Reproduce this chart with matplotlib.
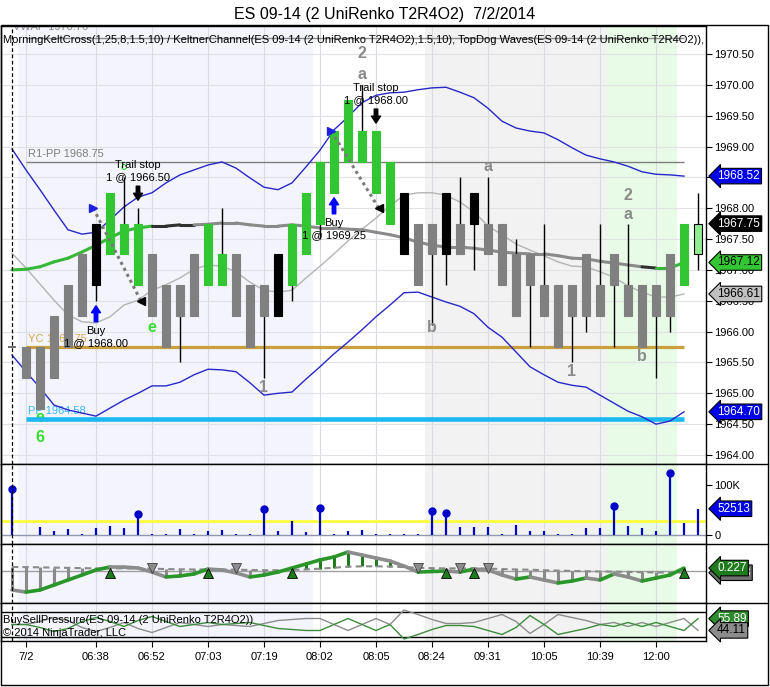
import numpy as np
import matplotlib
matplotlib.use("Agg")
import matplotlib.pyplot as plt
from matplotlib.lines import Line2D
from matplotlib.patches import Rectangle

plt.rcParams['font.family'] = ['Liberation Sans', 'DejaVu Sans']

W, H = 770, 687

# ---- UniRenko bars ----
bar_state = ['s'] * 6 + ['k'] + ['g'] * 3 + ['s'] * 4 + ['g'] * 2 + ['s'] * 3 + ['k'] + ['g'] * 8 \
    + ['k'] + ['s'] * 2 + ['k'] + ['s'] + ['k'] + ['s'] * 14 + ['g'] + ['l']
bar_open = [1965.75, 1965.75, 1965.75, 1966.25, 1966.75, 1967.25, 1966.75, 1967.25, 1967.25, 1966.75,
            1967.25, 1966.75, 1966.75, 1967.25, 1966.75, 1966.75, 1967.25, 1966.75, 1966.75, 1966.25,
            1966.75, 1967.25, 1967.75, 1968.25, 1968.75, 1968.75, 1968.25, 1967.75, 1967.25, 1967.75,
            1967.75, 1967.25, 1967.75, 1967.75, 1967.75, 1967.75, 1967.25, 1967.25, 1966.75, 1966.75,
            1966.75, 1967.25, 1966.75, 1967.25, 1966.75, 1966.75, 1966.75, 1967.25, 1966.75, 1967.25]
bar_close = [1965.75, 1965.25, 1964.75, 1965.25, 1965.75, 1966.25, 1967.75, 1968.25, 1967.75, 1967.75,
             1966.25, 1965.75, 1966.25, 1966.25, 1967.75, 1967.25, 1966.25, 1965.75, 1966.25, 1967.25,
             1967.75, 1968.25, 1968.75, 1969.25, 1969.75, 1969.25, 1969.25, 1968.75, 1968.25, 1966.75,
             1967.25, 1968.25, 1967.25, 1968.25, 1967.25, 1966.75, 1966.25, 1966.75, 1966.25, 1965.75,
             1966.25, 1966.25, 1966.25, 1966.75, 1966.25, 1965.75, 1966.25, 1966.25, 1967.75, 1967.75]
bar_high = [1965.75, 1965.75, 1965.75, 1966.25, 1966.75, 1967.25, 1967.75, 1968.25, 1968.50, 1968.00,
            1967.25, 1966.75, 1966.75, 1967.25, 1967.75, 1968.00, 1967.25, 1966.75, 1966.75, 1967.25,
            1967.75, 1968.25, 1968.75, 1969.25, 1969.75, 1970.00, 1969.25, 1968.75, 1968.25, 1967.75,
            1967.75, 1968.25, 1968.50, 1968.25, 1968.50, 1967.75, 1967.50, 1967.25, 1967.75, 1966.75,
            1966.75, 1967.25, 1967.75, 1967.25, 1967.75, 1966.75, 1966.75, 1967.25, 1967.75, 1968.25]
bar_low = [1965.75, 1965.25, 1964.75, 1965.25, 1965.75, 1966.25, 1966.50, 1967.25, 1967.25, 1966.75,
           1966.25, 1965.75, 1965.50, 1966.25, 1966.75, 1966.75, 1966.25, 1965.75, 1965.25, 1966.25,
           1966.50, 1967.25, 1967.50, 1968.25, 1968.75, 1968.75, 1968.25, 1967.75, 1967.25, 1966.75,
           1966.10, 1966.75, 1967.25, 1967.00, 1967.25, 1966.75, 1966.25, 1965.75, 1966.25, 1965.75,
           1965.50, 1966.00, 1966.25, 1965.75, 1966.25, 1965.75, 1965.25, 1966.00, 1966.75, 1967.00]

# ---- indicators (bars 0..48) ----
kelt_upper = [1968.96, 1968.62, 1968.30, 1967.97, 1967.65, 1967.58, 1967.61, 1967.81, 1968.02, 1968.18,
              1968.25, 1968.41, 1968.54, 1968.62, 1968.70, 1968.75, 1968.65, 1968.49, 1968.34, 1968.30,
              1968.41, 1968.67, 1968.94, 1969.27, 1969.48, 1969.71, 1969.83, 1969.87, 1969.88, 1969.92,
              1969.95, 1969.96, 1969.88, 1969.79, 1969.62, 1969.41, 1969.30, 1969.25, 1969.22, 1969.11,
              1968.98, 1968.86, 1968.80, 1968.75, 1968.68, 1968.59, 1968.55, 1968.54, 1968.52]
kelt_lower = [1965.62, 1965.35, 1965.09, 1964.81, 1964.73, 1964.68, 1964.63, 1964.76, 1964.89, 1965.00,
              1965.12, 1965.12, 1965.18, 1965.30, 1965.39, 1965.38, 1965.35, 1965.17, 1964.97, 1965.00,
              1965.02, 1965.23, 1965.43, 1965.64, 1965.83, 1966.03, 1966.24, 1966.43, 1966.63, 1966.64,
              1966.56, 1966.48, 1966.41, 1966.29, 1966.07, 1965.91, 1965.67, 1965.43, 1965.30, 1965.18,
              1965.13, 1965.10, 1964.97, 1964.84, 1964.71, 1964.62, 1964.50, 1964.55, 1964.70]
thin_ma = [1967.27, 1967.03, 1966.77, 1966.51, 1966.27, 1966.16, 1966.14, 1966.24, 1966.43, 1966.51,
           1966.67, 1966.76, 1966.87, 1967.01, 1967.08, 1967.06, 1966.97, 1966.80, 1966.67, 1966.64,
           1966.67, 1966.87, 1967.06, 1967.26, 1967.47, 1967.66, 1967.84, 1968.04, 1968.21, 1968.25,
           1968.25, 1968.21, 1968.10, 1967.94, 1967.71, 1967.57, 1967.42, 1967.32, 1967.23, 1967.13,
           1967.06, 1967.05, 1966.97, 1966.88, 1966.74, 1966.64, 1966.56, 1966.56, 1966.61]
mid_line = [1967.00, 1967.01, 1967.05, 1967.13, 1967.19, 1967.29, 1967.40, 1967.52, 1967.63, 1967.68,
            1967.71, 1967.71, 1967.73, 1967.73, 1967.74, 1967.76, 1967.76, 1967.73, 1967.71, 1967.71,
            1967.73, 1967.71, 1967.68, 1967.68, 1967.66, 1967.65, 1967.61, 1967.57, 1967.52, 1967.45,
            1967.40, 1967.37, 1967.37, 1967.35, 1967.32, 1967.29, 1967.27, 1967.26, 1967.26, 1967.23,
            1967.19, 1967.18, 1967.14, 1967.11, 1967.08, 1967.05, 1967.03, 1967.03, 1967.12]
mid_state = ['g'] * 11 + ['k'] * 3 + ['s'] * 32 + ['k'] + ['g'] * 2

level_names = ['VWAP', 'R1-PP', 'YC', 'PP']
level_values = [1970.76, 1968.75, 1965.75, 1964.58]

entry_bars, entry_prices = [6, 23], [1968.00, 1969.25]
exit_bars, exit_prices = [9, 26], [1966.50, 1968.00]

wave_labels = [(25, '2', 1970.50), (25, 'a', 1970.16), (34, 'a', 1968.67), (44, '2', 1968.20),
               (44, 'a', 1967.89), (30, 'b', 1966.07), (18, '1', 1965.10), (40, '1', 1965.35),
               (45, 'b', 1965.59)]
green_labels = [(10, 'e', 1966.07), (2, 'e', 1964.60), (2, '6', 1964.29)]

# ---- volume ----
volume = [92000, 0, 16000, 8000, 12000, 2000, 14000, 18000, 14000, 42000,
          2000, 2000, 12000, 2000, 8000, 10000, 2000, 2000, 52000, 8000,
          28000, 6000, 54000, 2000, 8000, 10000, 2000, 2000, 2000, 2000,
          48000, 44000, 16000, 16000, 16000, 2000, 20000, 8000, 8000, 2000,
          2000, 14000, 14000, 58000, 18000, 14000, 8000, 124000, 24000, 52513]
vol_spikes = [0, 9, 18, 22, 30, 31, 43, 47]
vol_level = 28600

# ---- oscillator (bars 0..48) ----
osc_fast = [-1.46, -1.62, -1.46, -1.08, -0.69, -0.31, 0.08, 0.31, 0.30, 0.23,
            -0.08, -0.46, -0.38, -0.23, 0.15, 0.08, -0.15, -0.46, -0.31, -0.08,
            0.23, 0.54, 0.85, 1.08, 1.46, 1.23, 1.00, 0.77, 0.38, -0.08,
            -0.04, 0.00, -0.08, 0.15, 0.08, -0.31, -0.62, -0.46, -0.69, -0.92,
            -0.77, -0.54, -0.69, -0.23, -0.46, -0.77, -0.54, -0.31, 0.227]
osc_slow = [0.31, 0.30, 0.28, 0.26, 0.24, 0.22, 0.20, 0.20, 0.20, 0.20,
            0.18, 0.15, 0.13, 0.12, 0.12, 0.12, 0.10, 0.08, 0.06, 0.06,
            0.08, 0.12, 0.18, 0.25, 0.33, 0.36, 0.36, 0.34, 0.30, 0.25,
            0.22, 0.20, 0.20, 0.20, 0.18, 0.15, 0.12, 0.10, 0.06, 0.03,
            0.00, -0.02, -0.04, -0.05, -0.07, -0.09, -0.11, -0.12, -0.133]
osc_up = [7, 14, 20, 31, 33, 48]
osc_down = [10, 16, 29, 32, 34]

# ---- buy / sell pressure ----
sell_pressure = [50, 50, 53, 57, 54, 47, 43, 47, 52, 46,
                 42, 47, 52, 50, 48, 50, 49, 48, 51, 54,
                 55, 56, 56, 50, 44, 50, 56, 50, 64.5, 60,
                 55, 51, 51, 52, 56, 60, 53, 41, 50, 60,
                 57, 54, 50, 52, 48, 52, 48, 52, 56, 44.11]

tick_bars = [1, 6, 10, 14, 18, 22, 26, 30, 34, 38, 42, 46]
tick_labels = ['7/2', '06:38', '06:52', '07:03', '07:19', '08:02', '08:05',
               '08:24', '09:31', '10:05', '10:39', '12:00']
bg_spans = [(0.45, 21.5, '#F3F4FC'), (29.5, 42.5, '#F2F2F2'), (42.5, 47.5, '#E7FBE7')]

body_colors = {'g': '#33C633', 's': '#808080', 'k': '#000000', 'l': '#90EE90'}
line_colors = {'g': '#38B838', 's': '#8A8A8A', 'k': '#303030'}


def frect(x0, y0, x1, y1):
    return [x0 / W, 1 - y1 / H, (x1 - x0) / W, (y1 - y0) / H]


fig = plt.figure(figsize=(W / 100, H / 100), dpi=100)
ax = fig.add_axes(frect(1, 26, 706, 464))
ax_vol = fig.add_axes(frect(1, 464, 706, 544))
ax_osc = fig.add_axes(frect(1, 544, 706, 603))
ax_bsp = fig.add_axes(frect(1, 603, 706, 641))
panels = [ax, ax_vol, ax_osc, ax_bsp]

XL = (-11 / 14, 694 / 14)
for a in panels:
    a.set_xlim(*XL)
    for x0, x1, c in bg_spans:
        a.axvspan(x0, x1, color=c, lw=0, zorder=0)
    for t in tick_bars:
        a.axvline(t, color='#DADAE2', lw=0.8, zorder=0.5)
    a.axvline(0, color='black', lw=0.9, ls=(0, (3, 2)), zorder=6)
    a.tick_params(bottom=False, labelbottom=False, left=False, labelleft=False)
    for s in a.spines.values():
        s.set_linewidth(1)

ax.set_ylim(1964 - 9 / 61.7, 1964 + 429 / 61.7)
ax_vol.set_ylim(-18000, 142000)
ax_osc.set_ylim(-32 / 13, 27 / 13)
ax_bsp.set_ylim(33.5, 71.5)
ppx = (ax.get_ylim()[1] - ax.get_ylim()[0]) / 438.0

# right price axis
ax.yaxis.tick_right()
ax.set_yticks(np.arange(1964, 1970.51, 0.5))
ax.set_yticklabels([f'{v:.2f}' for v in np.arange(1964, 1970.51, 0.5)])
ax.tick_params(axis='y', right=True, labelright=True, labelsize=8, length=4, width=0.8, pad=2)
for v in np.arange(1964, 1970.51, 0.5):
    ax.axhline(v, color='#E2E2E6', lw=0.8, zorder=0.5)

xb = np.arange(len(bar_open))
xi = np.arange(len(kelt_upper))

# levels
lvl_style = {'VWAP': ('#8C8C8C', 1.0), 'R1-PP': ('#7F7F7F', 1.0),
             'YC': ('#C9A03C', 2.3), 'PP': ('#1CB8F2', 3.3)}
lvl_text_col = {'VWAP': '#8C8C8C', 'R1-PP': '#7F7F7F', 'YC': '#D2A850', 'PP': '#3CB8F0'}
for name, val in zip(level_names, level_values):
    col, lw = lvl_style[name]
    ax.plot([1, 48], [val, val], color=col, lw=lw, zorder=2, solid_capstyle='butt')
    if name == 'VWAP':
        ax.text(0.1, val + 11 * ppx, f'{name} {val:.2f}', color=col, fontsize=8,
                va='center', ha='left', zorder=1.5, clip_on=True)
    else:
        ax.text(1.15, val + 8 * ppx, f'{name} {val:.2f}', color=lvl_text_col[name], fontsize=8,
                va='center', ha='left', zorder=1.5)

# indicator lines
ax.plot(xi, kelt_upper, color='#2828C8', lw=1.0, zorder=2.5)
ax.plot(xi, kelt_lower, color='#2828C8', lw=1.0, zorder=2.5)
ax.plot(xi, thin_ma, color='#B4B4B4', lw=1.0, zorder=2.5)
for i in range(1, len(mid_line)):
    ax.plot([i - 1, i], [mid_line[i - 1], mid_line[i]], color=line_colors[mid_state[i]],
            lw=2.2, zorder=2.6, solid_capstyle='round')

# bars
ax.vlines(xb, bar_low, bar_high, color='black', lw=1, zorder=3)
for i in xb:
    o, c = bar_open[i], bar_close[i]
    st = bar_state[i]
    if o == c:
        ax.hlines(o, i - 0.32, i + 0.32, color='#505050', lw=1.2, zorder=4)
        continue
    ec = 'black' if st == 'l' else body_colors[st]
    ax.add_patch(Rectangle((i - 0.32, min(o, c)), 0.64, abs(c - o), fc=body_colors[st],
                           ec=ec, lw=0.8, zorder=4))

# wave labels
for b, t, p in wave_labels:
    ax.text(b, p, t, color='#8A8A8A', fontsize=11.5, fontweight='bold', ha='center',
            va='center', zorder=5)
for b, t, p in green_labels:
    ax.text(b, p, t, color='#33DD33', fontsize=11.5, fontweight='bold', ha='center',
            va='center', zorder=1.8)
ax.text(8, bar_high[8] + 10 * ppx, 'c', color='#33DD33', fontsize=8, fontweight='bold',
        ha='center', va='center', zorder=5)

# trades
for eb, ep, xb_, xp in zip(entry_bars, entry_prices, exit_bars, exit_prices):
    ax.plot([eb - 0.2, xb_ + 0.2], [ep, xp], color='#7A7A7A', lw=2.2, ls=(0, (1, 1.2)), zorder=5)
    ax.plot(eb - 0.2, ep, marker='>', ms=6, color='#2020E0', zorder=6)
    ax.plot(xb_ + 0.2, xp, marker='<', ms=6, color='black', zorder=6)
    lo = bar_low[eb]
    ax.annotate('', xy=(eb, lo - 5 * ppx), xytext=(eb, lo - 21 * ppx),
                arrowprops=dict(arrowstyle='simple,head_width=0.65,head_length=0.5,tail_width=0.25',
                                color='#0000FF', shrinkA=0, shrinkB=0, mutation_scale=10), zorder=6)
    ax.text(eb, lo - 30 * ppx, 'Buy', ha='center', va='center', fontsize=8, zorder=6)
    ax.text(eb, lo - 42 * ppx, f'1 @ {ep:.2f}', ha='center', va='center', fontsize=8, zorder=6)
    hi = bar_high[xb_]
    ax.annotate('', xy=(xb_, hi + 8 * ppx), xytext=(xb_, hi + 22 * ppx),
                arrowprops=dict(arrowstyle='simple,head_width=0.65,head_length=0.5,tail_width=0.25',
                                color='black', shrinkA=0, shrinkB=0, mutation_scale=10), zorder=6)
    ax.text(xb_, hi + 43 * ppx, 'Trail stop', ha='center', va='center', fontsize=8, zorder=6)
    ax.text(xb_, hi + 31 * ppx, f'1 @ {xp:.2f}', ha='center', va='center', fontsize=8, zorder=6)

ax.text(0.003, 1 - 14 / 438, 'MorningKeltCross(1,25,8,1.5,10) / KeltnerChannel(ES 09-14 (2 UniRenko '
        'T2R4O2),1.5,10), TopDog Waves(ES 09-14 (2 UniRenko T2R4O2)),', transform=ax.transAxes,
        fontsize=8, ha='left', va='center', zorder=7)


def flag(a, y, txt, fc, tc, ec='black', z=10):
    a.annotate(txt, xy=(1, y), xycoords=('axes fraction', 'data'), xytext=(8, 0),
               textcoords='offset points', ha='left', va='center', fontsize=8.5, color=tc,
               annotation_clip=False, zorder=z,
               bbox=dict(boxstyle='larrow,pad=0.15', fc=fc, ec=ec, lw=0.8))


flag(ax, kelt_upper[-1], f'{kelt_upper[-1]:.2f}', '#0000E8', 'white')
flag(ax, bar_close[-1], f'{bar_close[-1]:.2f}', 'black', 'white')
flag(ax, mid_line[-1], f'{mid_line[-1]:.2f}', '#33C633', 'black')
flag(ax, thin_ma[-1], f'{thin_ma[-1]:.2f}', '#C0C0C0', 'black')
flag(ax, kelt_lower[-1], f'{kelt_lower[-1]:.2f}', '#0000E8', 'white')

# volume panel
ax_vol.axhline(0, color='#9098B0', lw=1, zorder=1)
ax_vol.axhline(vol_level, color='#FFFF3A', lw=2, zorder=1.5)
ax_vol.vlines(xb, 0, volume, color='#0000C8', lw=1.6, zorder=3)
ax_vol.plot(vol_spikes, [volume[i] for i in vol_spikes], 'o', ms=5, color='#0000C8', zorder=4)
ax_vol.yaxis.tick_right()
ax_vol.set_yticks([0, 100000])
ax_vol.set_yticklabels(['0', '100K'])
ax_vol.tick_params(axis='y', right=True, labelright=True, labelsize=8, length=4, width=0.8, pad=2)
flag(ax_vol, volume[-1], f'{volume[-1]}', '#0000E8', 'white')

# oscillator panel
ax_osc.axhline(0, color='#A0A0A0', lw=1, zorder=1)
for i in xi:
    col = '#1E7B1E' if osc_fast[i] > osc_slow[i] else '#8A8A8A'
    ax_osc.plot([i, i], [osc_slow[i], osc_fast[i]], color=col, lw=2.2, zorder=2,
                solid_capstyle='butt')
ax_osc.plot(xi, osc_slow, color='#8A8A8A', lw=1.5, ls=(0, (3, 2)), zorder=2.5)
for i in range(1, len(osc_fast)):
    col = '#2A962A' if osc_fast[i] > osc_fast[i - 1] else '#8C8C8C'
    ax_osc.plot([i - 1, i], [osc_fast[i - 1], osc_fast[i]], color=col, lw=2.6, zorder=3,
                solid_capstyle='round')
ax_osc.plot(osc_up, [-0.15] * len(osc_up), '^', ms=7, color='#1E7B1E', mec='black', mew=0.6, zorder=4)
ax_osc.plot(osc_down, [0.25] * len(osc_down), 'v', ms=7, color='#8C8C8C', mec='#404040', mew=0.6,
            zorder=4)
ax_osc.tick_params(axis='y', right=False, labelright=False)
flag(ax_osc, osc_slow[-1], f'{osc_slow[-1]:.3f}', '#707070', 'white', z=9)
flag(ax_osc, osc_fast[-1], f'{osc_fast[-1]:.3f}', '#1E7B1E', 'white', z=10)

# buy/sell pressure panel
buy_pressure = [100 - v for v in sell_pressure]
ax_bsp.axhline(62.5, color='black', lw=1, zorder=2)
ax_bsp.axhline(37.5, color='black', lw=1, zorder=2)
ax_bsp.plot(xb, sell_pressure, color='#8C8C8C', lw=1, zorder=3)
ax_bsp.plot(xb, buy_pressure, color='#3C8C3C', lw=1, zorder=3)
ax_bsp.text(0.003, 50 + 624.5 - 620, 'BuySellPressure(ES 09-14 (2 UniRenko T2R4O2))',
            transform=ax_bsp.get_yaxis_transform(), fontsize=8, va='center', zorder=7)
ax_bsp.text(0.003, 50 + 624.5 - 633, '\u00a9 2014 NinjaTrader, LLC',
            transform=ax_bsp.get_yaxis_transform(), fontsize=8, va='center', zorder=7)
flag(ax_bsp, buy_pressure[-1], f'{buy_pressure[-1]:.2f}', '#2E8B2E', 'white', z=9)
flag(ax_bsp, sell_pressure[-1], f'{sell_pressure[-1]:.2f}', '#8C8C8C', 'black', z=10)
ax_bsp.set_xticks(tick_bars)
ax_bsp.set_xticklabels(tick_labels)
ax_bsp.tick_params(axis='x', bottom=True, labelbottom=True, labelsize=8, length=4, width=0.8, pad=4)

# frame and title
fig.add_artist(Rectangle((1 / W, 1 - 685 / H), 767 / W, 660 / H, transform=fig.transFigure,
                         fill=False, ec='black', lw=1))
for y in [464, 544, 603]:
    fig.add_artist(Line2D([706 / W, 768 / W], [1 - y / H, 1 - y / H], color='black', lw=1))
fig.text(0.5, 1 - 14 / H, 'ES 09-14 (2 UniRenko T2R4O2)  7/2/2014', ha='center', va='center',
         fontsize=11.5)

fig.savefig('out.png', dpi=100)
